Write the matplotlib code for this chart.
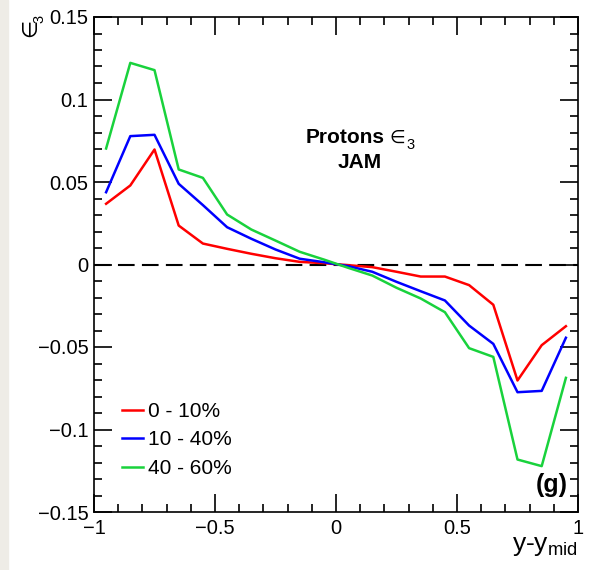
import matplotlib
matplotlib.use("Agg")
import matplotlib.pyplot as plt
from matplotlib.ticker import MultipleLocator, FixedFormatter, FixedLocator
from matplotlib.patches import Rectangle

plt.rcParams['font.family'] = ['Liberation Sans', 'DejaVu Sans']
plt.rcParams['mathtext.fontset'] = 'custom'
plt.rcParams['mathtext.rm'] = 'Liberation Sans'
plt.rcParams['mathtext.it'] = 'Liberation Sans'

# rapidity bins (y - y_mid)
y_rel = [-0.95, -0.85, -0.75, -0.65, -0.55, -0.45, -0.35, -0.25, -0.15, -0.05,
         0.05, 0.15, 0.25, 0.35, 0.45, 0.55, 0.65, 0.75, 0.85, 0.95]

# proton epsilon_3 for each centrality class
eps3_0_10 = [0.0368, 0.0479, 0.0697, 0.0236, 0.0127, 0.0095, 0.0065, 0.0038, 0.0016, 0.0008,
             -0.0004, -0.0016, -0.0044, -0.0073, -0.0073, -0.0125, -0.0244, -0.0703, -0.0489, -0.0374]
eps3_10_40 = [0.0438, 0.0778, 0.0786, 0.0489, 0.0360, 0.0226, 0.0156, 0.0091, 0.0035, 0.0014,
              -0.0010, -0.0044, -0.0105, -0.0162, -0.0218, -0.0370, -0.0481, -0.0774, -0.0766, -0.0444]
eps3_40_60 = [0.0703, 0.1222, 0.1178, 0.0576, 0.0525, 0.0303, 0.0212, 0.0145, 0.0077, 0.0030,
              -0.0020, -0.0067, -0.0141, -0.0206, -0.0289, -0.0507, -0.0560, -0.1182, -0.1222, -0.0687]

series = [("0 - 10%", eps3_0_10, "#ff0000"),
          ("10 - 40%", eps3_10_40, "#0000ff"),
          ("40 - 60%", eps3_40_60, "#19d23c")]

y_ticks = [-0.15, -0.1, -0.05, 0, 0.05, 0.1, 0.15]
y_tick_labels = ["\u22120.15", "\u22120.1", "\u22120.05", "0", "0.05", "0.1", "0.15"]
x_ticks = [-1, -0.5, 0, 0.5, 1]
x_tick_labels = ["\u22121", "\u22120.5", "0", "0.5", "1"]

W, H = 602, 570
fig = plt.figure(figsize=(W / 100, H / 100), dpi=100)
fig.patches.append(Rectangle((0, 0), 8 / W, 1, transform=fig.transFigure,
                             color="#eeece6", zorder=0))
ax = fig.add_axes([94 / W, 1 - 512 / H, 484 / W, 495 / H])

ax.axhline(0, color="black", lw=1.5, ls=(0, (8, 3.5)), zorder=1)
lines = []
for label, vals, col in series:
    ln, = ax.plot(y_rel, vals, color=col, lw=1.8, label=label, zorder=2)
    lines.append(ln)

ax.set_xlim(-1, 1)
ax.set_ylim(-0.15, 0.15)
ax.xaxis.set_major_locator(FixedLocator(x_ticks))
ax.xaxis.set_major_formatter(FixedFormatter(x_tick_labels))
ax.yaxis.set_major_locator(FixedLocator(y_ticks))
ax.yaxis.set_major_formatter(FixedFormatter(y_tick_labels))
ax.xaxis.set_minor_locator(MultipleLocator(0.1))
ax.yaxis.set_minor_locator(MultipleLocator(0.01))
ax.tick_params(which="both", direction="in", top=True, right=True, width=1.2)
ax.tick_params(which="major", length=13, labelsize=14.5)
ax.tick_params(axis="y", which="major", pad=4)
ax.tick_params(axis="x", which="major", pad=5)
ax.tick_params(which="minor", length=6)
for s in ax.spines.values():
    s.set_linewidth(1.2)

# x-axis title, right-aligned under the axis end
ax.text(1.0, -0.079, r"y-y$_{\mathrm{mid}}$", transform=ax.transAxes,
        fontsize=19, ha="right", va="baseline")

# y-axis title at the top-left corner: rotated epsilon with a lowered "3"
fig.text(36 / W, 1 - 37 / H, "\u2208", rotation=90, fontsize=15,
         ha="left", va="baseline", family=["DejaVu Sans"], rotation_mode="anchor")
fig.text(43 / W, 1 - 23 / H, "3", rotation=90, fontsize=10.5,
         ha="left", va="baseline", rotation_mode="anchor")

# annotation text: "Protons ∈3" over "JAM"
ax.text(0.438, 0.7455, "Protons", transform=ax.transAxes, fontsize=15,
        fontweight="bold", ha="left", va="baseline")
ax.text(0.611, 0.7455, "\u2208", transform=ax.transAxes, fontsize=13,
        ha="left", va="baseline", family=["DejaVu Sans"])
ax.text(0.646, 0.7335, "3", transform=ax.transAxes, fontsize=10.5,
        ha="left", va="baseline")
ax.text(0.5486, 0.6949, "JAM", transform=ax.transAxes, fontsize=15,
        fontweight="bold", ha="center", va="baseline")
ax.text(0.979, 0.055, "(g)", transform=ax.transAxes, fontsize=18,
        fontweight="bold", ha="right", va="center")

ax.legend(handles=lines, loc="center left", bbox_to_anchor=(0.0579, 0.1455),
          frameon=False, fontsize=15, handlelength=1.0, handletextpad=0.25,
          labelspacing=0.45, borderpad=0, borderaxespad=0)

fig.savefig("out.png", dpi=100)
